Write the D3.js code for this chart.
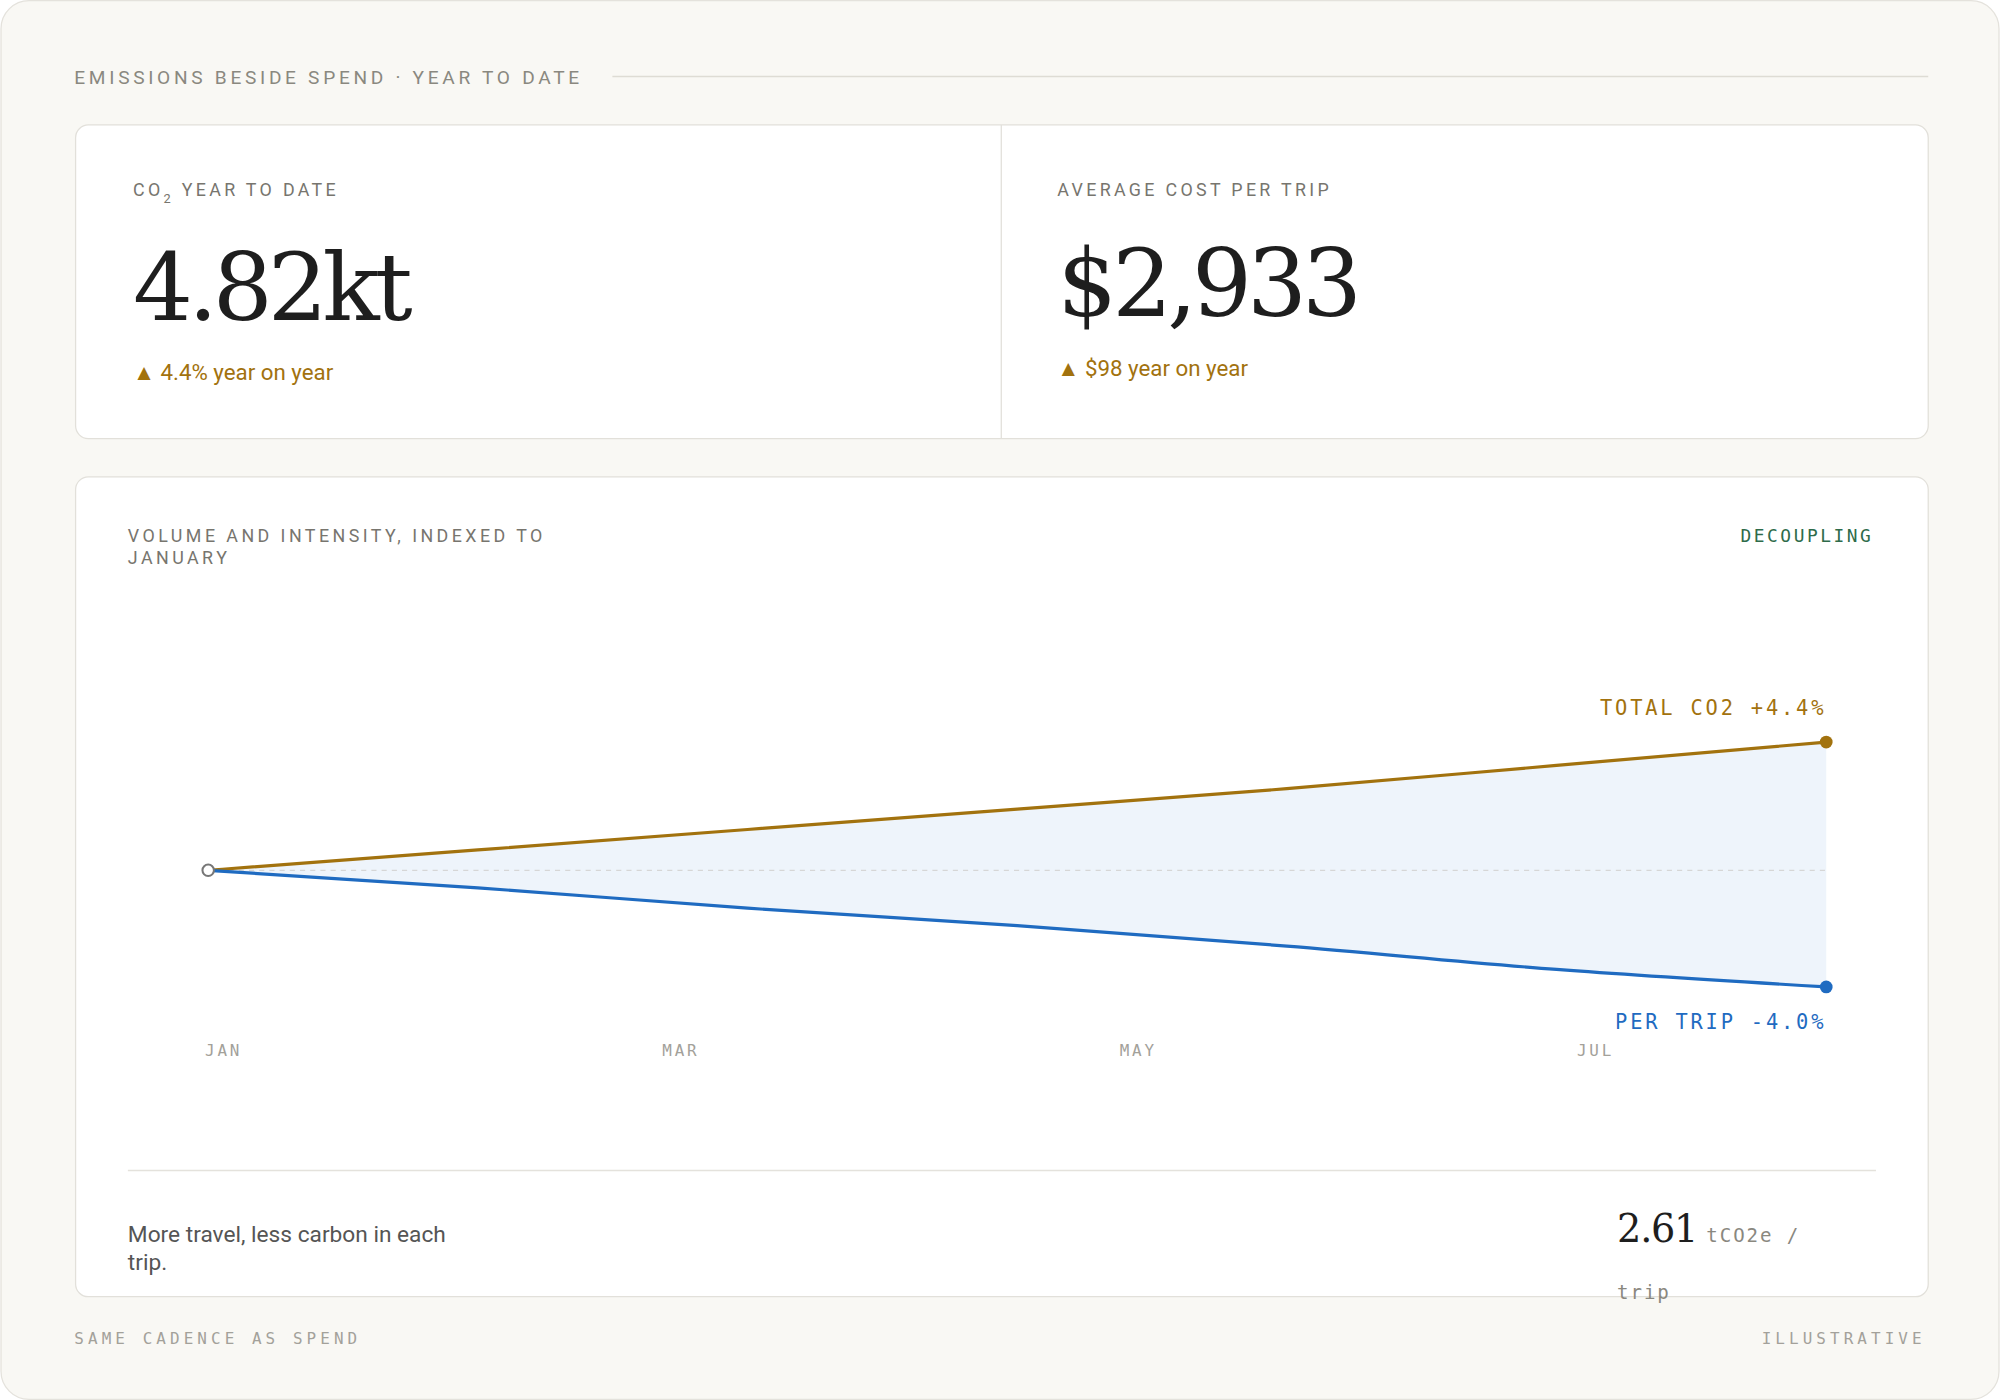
<!DOCTYPE html>
<html><head><meta charset="utf-8">
<script src="https://cdn.jsdelivr.net/npm/d3@7"></script>
<style>html,body{margin:0;padding:0;background:#fff}svg{display:block}</style>
</head><body>
<script>
const months = ["JAN","FEB","MAR","APR","MAY","JUN","JUL"];
const totalCO2 = [100, 100.7, 101.4, 102.1, 102.8, 103.6, 104.4];
const perTrip = [100, 99.4, 98.7, 98.1, 97.4, 96.6, 96.0];
const tickLabels = ["JAN","MAR","MAY","JUL"];

const svg = d3.select("body").append("svg").attr("width",2000).attr("height",1400).attr("viewBox","0 0 1568 1098");
const sans = "Roboto, 'Noto Sans', sans-serif", mono = "'DejaVu Sans Mono', monospace", serif = "'DejaVu Serif', 'Liberation Serif', serif";
svg.append("rect").attr("x",0.5).attr("y",0.5).attr("width",1567).attr("height",1097).attr("rx",22).attr("fill","#f9f8f4").attr("stroke","#e4e2dc");
const T=(x,y,s,o)=>{const t=svg.append("text").attr("x",x).attr("y",y).text(s);for(const k in o)t.attr(k,o[k]);return t;};
T(58,66,"EMISSIONS BESIDE SPEND · YEAR TO DATE",{"font-family":sans,"font-size":15,"letter-spacing":2.9,fill:"#8a887f"});
svg.append("line").attr("x1",480).attr("x2",1512).attr("y1",60).attr("y2",60).attr("stroke","#dedcd4");
// KPI card
svg.append("rect").attr("x",59).attr("y",98).attr("width",1453).attr("height",246).attr("rx",10).attr("fill","#fff").attr("stroke","#e2e0da");
svg.append("line").attr("x1",785).attr("x2",785).attr("y1",98).attr("y2",344).attr("stroke","#e2e0da");
const l1=T(104,154,"CO",{"font-family":sans,"font-size":14,"letter-spacing":2.6,fill:"#77756e"});
l1.append("tspan").attr("font-size",10).attr("dy",5).text("2");
l1.append("tspan").attr("dy",-5).text(" YEAR TO DATE");
T(104,251,"4.82kt",{"font-family":serif,"font-size":74,fill:"#1e1e1e","letter-spacing":-4});
T(104,298,"▲ 4.4% year on year",{"font-family":sans,"font-size":17.5,fill:"#a2720e"});
T(829,154,"AVERAGE COST PER TRIP",{"font-family":sans,"font-size":14,"letter-spacing":2.6,fill:"#77756e"});
T(829,248,"$2,933",{"font-family":serif,"font-size":74,fill:"#1e1e1e","letter-spacing":-4});
T(829,295,"▲ $98 year on year",{"font-family":sans,"font-size":17.5,fill:"#a2720e"});
// chart card
svg.append("rect").attr("x",59).attr("y",374).attr("width",1453).attr("height",643).attr("rx",10).attr("fill","#fff").attr("stroke","#e2e0da");
T(100,425,"VOLUME AND INTENSITY, INDEXED TO",{"font-family":sans,"font-size":14,"letter-spacing":2.7,fill:"#77756e"});
T(100,442,"JANUARY",{"font-family":sans,"font-size":14,"letter-spacing":2.7,fill:"#77756e"});
T(1469,425,"DECOUPLING",{"font-family":mono,"font-size":14,"letter-spacing":2,fill:"#2e6b4a","text-anchor":"end"});

const x = d3.scalePoint().domain(months).range([163,1432]);
const y = d3.scaleLinear().domain([96,104.4]).range([774,582]);
const area = d3.area().x((d,i)=>x(months[i])).y0((d,i)=>y(perTrip[i])).y1(d=>y(d)).curve(d3.curveMonotoneX);
svg.append("path").datum(totalCO2).attr("d",area).attr("fill","#eef4fb");
svg.append("line").attr("x1",163).attr("x2",1432).attr("y1",y(100)).attr("y2",y(100)).attr("stroke","#d6d6d6").attr("stroke-dasharray","4,4");
const line = d3.line().x((d,i)=>x(months[i])).y(d=>y(d)).curve(d3.curveMonotoneX);
svg.append("path").datum(totalCO2).attr("d",line).attr("fill","none").attr("stroke","#a2720e").attr("stroke-width",2.5);
svg.append("path").datum(perTrip).attr("d",line).attr("fill","none").attr("stroke","#1f6bc1").attr("stroke-width",2.5);
svg.append("circle").attr("cx",x("JUL")).attr("cy",y(totalCO2[6])).attr("r",5).attr("fill","#a2720e");
svg.append("circle").attr("cx",x("JUL")).attr("cy",y(perTrip[6])).attr("r",5).attr("fill","#1f6bc1");
svg.append("circle").attr("cx",x("JAN")).attr("cy",y(100)).attr("r",4.5).attr("fill","#fff").attr("stroke","#777").attr("stroke-width",1.6);
T(1432,561,"TOTAL CO2 +4.4%",{"font-family":mono,"font-size":16,"letter-spacing":2.2,fill:"#a2720e","text-anchor":"end"});
T(1432,807,"PER TRIP -4.0%",{"font-family":mono,"font-size":16,"letter-spacing":2.2,fill:"#1f6bc1","text-anchor":"end"});
const xl = d3.scalePoint().domain(tickLabels).range([160,1236]);
const ax = svg.append("g").attr("transform","translate(0,828)").call(d3.axisBottom(xl).tickSize(0).tickPadding(0));
ax.select(".domain").remove();
ax.selectAll("text").attr("text-anchor","start").attr("font-family",mono).attr("font-size",12.5).attr("letter-spacing",2.2).attr("fill","#a3a19a").attr("dy",0);

svg.append("line").attr("x1",100).attr("x2",1471).attr("y1",918).attr("y2",918).attr("stroke","#e4e2dc");
T(100,974,"More travel, less carbon in each",{"font-family":sans,"font-size":17.8,fill:"#555"});
T(100,996,"trip.",{"font-family":sans,"font-size":17.8,fill:"#555"});
T(1268,974,"2.61",{"font-family":serif,"font-size":30,fill:"#1e1e1e","letter-spacing":-1});
T(1338,974,"tCO2e /",{"font-family":mono,"font-size":15,fill:"#8a887f","letter-spacing":1.5});
T(1268,1019,"trip",{"font-family":mono,"font-size":15,fill:"#8a887f","letter-spacing":1.5});
T(58,1054,"SAME CADENCE AS SPEND",{"font-family":mono,"font-size":12.5,"letter-spacing":3.2,fill:"#a3a19a"});
T(1510,1054,"ILLUSTRATIVE",{"font-family":mono,"font-size":12.5,"letter-spacing":3.2,fill:"#a3a19a","text-anchor":"end"});
</script>
</body></html>
